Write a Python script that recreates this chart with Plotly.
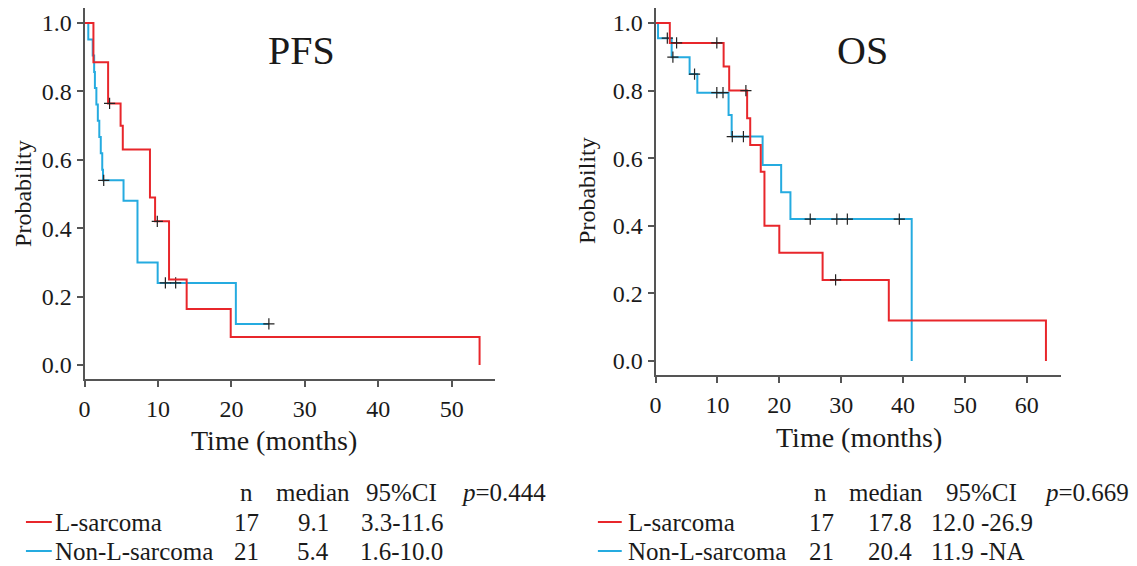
import numpy as np
import plotly.graph_objects as go

# ---------------- data ----------------
# PFS, L-sarcoma (red)
pfs_l_t = [0, 1.2, 3.2, 4.9, 5.2, 8.9, 9.6, 11.5, 13.9, 19.9, 53.8]
pfs_l_s = [1.0, 0.885, 0.765, 0.70, 0.63, 0.49, 0.42, 0.25, 0.164, 0.082, 0.0]
pfs_l_cens = [3.4, 9.9]
# PFS, Non-L-sarcoma (blue)
pfs_n_t = [0, 0.5, 1.1, 1.3, 1.4, 1.6, 1.8, 2.0, 2.2, 2.4, 2.5, 5.3, 7.2, 9.95, 20.6, 25.1]
pfs_n_s = [1.0, 0.952, 0.905, 0.857, 0.81, 0.762, 0.714, 0.667, 0.619, 0.571, 0.54, 0.48, 0.30, 0.24, 0.12, 0.12]
pfs_n_cens = [2.6, 11.0, 12.4, 25.1]

# OS, L-sarcoma (red)
os_l_t = [0, 2.3, 11.0, 11.9, 14.8, 15.3, 17.0, 17.6, 20.0, 27.0, 37.7, 63.1]
os_l_s = [1.0, 0.941, 0.871, 0.80, 0.718, 0.639, 0.56, 0.40, 0.32, 0.24, 0.12, 0.0]
os_l_cens = [3.4, 9.9, 14.6, 29.1]
# OS, Non-L-sarcoma (blue)
os_n_t = [0, 0.4, 2.6, 5.5, 6.75, 11.8, 12.3, 17.3, 20.3, 21.8, 41.4]
os_n_s = [1.0, 0.955, 0.899, 0.849, 0.794, 0.728, 0.664, 0.58, 0.499, 0.42, 0.0]
os_n_cens = [1.9, 2.8, 6.3, 9.9, 10.9, 12.4, 14.2, 25.0, 29.3, 31.0, 39.4]

panel_titles = ["PFS", "OS"]
x_ticks_pfs = [0, 10, 20, 30, 40, 50]
x_ticks_os = [0, 10, 20, 30, 40, 50, 60]
y_ticks = [0.0, 0.2, 0.4, 0.6, 0.8, 1.0]
y_ticktext = ["0.0", "0.2", "0.4", "0.6", "0.8", "1.0"]

groups = ["L-sarcoma", "Non-L-sarcoma"]
pfs_n = ["17", "21"]
pfs_median = ["9.1", "5.4"]
pfs_ci = ["3.3-11.6", "1.6-10.0"]
pfs_p = "0.444"
os_n = ["17", "21"]
os_median = ["17.8", "20.4"]
os_ci = ["12.0 -26.9", "11.9 -NA"]
os_p = "0.669"

# ---------------- style ----------------
RED = "#e8262b"
BLUE = "#25abe0"
AX = "#555555"
TXT = "#1a1a1a"
FONT = "Liberation Serif"
WIN_W, WIN_H = 1137, 566
OX, OY = 8, 8          # page body margin offset
W, H = WIN_W - OX, WIN_H - OY


def step_value(ts, ss, t):
    i = np.searchsorted(np.array(ts), t, side="right") - 1
    return ss[max(i, 0)]


fig = go.Figure()


def add_curve(ts, ss, cens, color, xa, ya):
    fig.add_trace(go.Scatter(x=ts, y=ss, mode="lines", line=dict(color=color, width=2, shape="hv"),
                             xaxis=xa, yaxis=ya, showlegend=False, hoverinfo="skip"))
    cy = [step_value(ts, ss, c) for c in cens]
    fig.add_trace(go.Scatter(x=cens, y=cy, mode="markers",
                             marker=dict(symbol="cross-thin", size=8, line=dict(color="#222222", width=1.2)),
                             xaxis=xa, yaxis=ya, showlegend=False, hoverinfo="skip"))


add_curve(pfs_n_t, pfs_n_s, pfs_n_cens, BLUE, "x", "y")
add_curve(pfs_l_t, pfs_l_s, pfs_l_cens, RED, "x", "y")
add_curve(os_n_t, os_n_s, os_n_cens, BLUE, "x2", "y2")
add_curve(os_l_t, os_l_s, os_l_cens, RED, "x2", "y2")


def px_x(p):
    return (p - OX) / W


def px_y(p):
    return 1 - (p - OY) / H


axis_common = dict(showline=True, linecolor=AX, linewidth=2, ticks="outside", ticklen=6,
                   tickwidth=1.5, tickcolor=AX, showgrid=False, zeroline=False,
                   tickfont=dict(family=FONT, size=24, color=TXT))

fig.update_layout(
    width=W, height=H, margin=dict(l=0, r=0, t=0, b=0),
    paper_bgcolor="white", plot_bgcolor="white",
    font=dict(family=FONT, color=TXT),
    xaxis=dict(domain=[px_x(79), px_x(492)], range=[0, 55.96], tickvals=x_ticks_pfs,
               anchor="y", ticklabelstandoff=1, **axis_common),
    yaxis=dict(domain=[px_y(379), px_y(8)], range=[-0.041, 1.044], tickvals=y_ticks,
               ticktext=y_ticktext, anchor="x", **axis_common),
    xaxis2=dict(domain=[px_x(653), px_x(1061)], range=[0, 65.6], tickvals=x_ticks_os,
                anchor="y2", ticklabelstandoff=1, **axis_common),
    yaxis2=dict(domain=[px_y(375), px_y(8)], range=[-0.0414, 1.0444], tickvals=y_ticks,
                ticktext=y_ticktext, anchor="x2", **axis_common),
)

ann = []


def text(x, y, s, size=25, xanchor="center", angle=0):
    ann.append(dict(x=px_x(x), y=px_y(y), xref="paper", yref="paper", text=s, showarrow=False,
                    xanchor=xanchor, yanchor="middle", textangle=angle,
                    font=dict(family=FONT, size=size, color=TXT)))


# titles
text(297, 50, panel_titles[0], size=40)
text(861, 50, panel_titles[1], size=40)
# axis titles
text(269, 440, "Time (months)", size=28)
text(858, 437, "Time (months)", size=28)
text(17, 193, "Probability", size=24, angle=-90)
text(584, 190, "Probability", size=24, angle=-90)

# tables
rows_y = [522, 551]
colors = [RED, BLUE]
# left table
text(242, 492, "n")
text(309, 492, "median")
text(398, 492, "95%CI")
text(455, 492, "<i>p</i>=" + pfs_p, xanchor="left")
for i in range(2):
    text(47, rows_y[i], groups[i], xanchor="left")
    text(242, rows_y[i], pfs_n[i])
    text(309, rows_y[i], pfs_median[i])
    text(398, rows_y[i], pfs_ci[i])
# right table
text(819, 492, "n")
text(885, 492, "median")
text(981, 492, "95%CI")
text(1041, 492, "<i>p</i>=" + os_p, xanchor="left")
for i in range(2):
    text(623, rows_y[i], groups[i], xanchor="left")
    text(820, rows_y[i], os_n[i])
    text(889, rows_y[i], os_median[i])
    text(928, rows_y[i], os_ci[i], xanchor="left")

shapes = []
for i in range(2):
    for x0, x1 in [(20, 46), (595, 619)]:
        shapes.append(dict(type="line", xref="paper", yref="paper", x0=px_x(x0), x1=px_x(x1),
                           y0=px_y(rows_y[i]), y1=px_y(rows_y[i]),
                           line=dict(color=colors[i], width=2)))

fig.update_layout(annotations=ann, shapes=shapes)
fig.write_html("out.html")
